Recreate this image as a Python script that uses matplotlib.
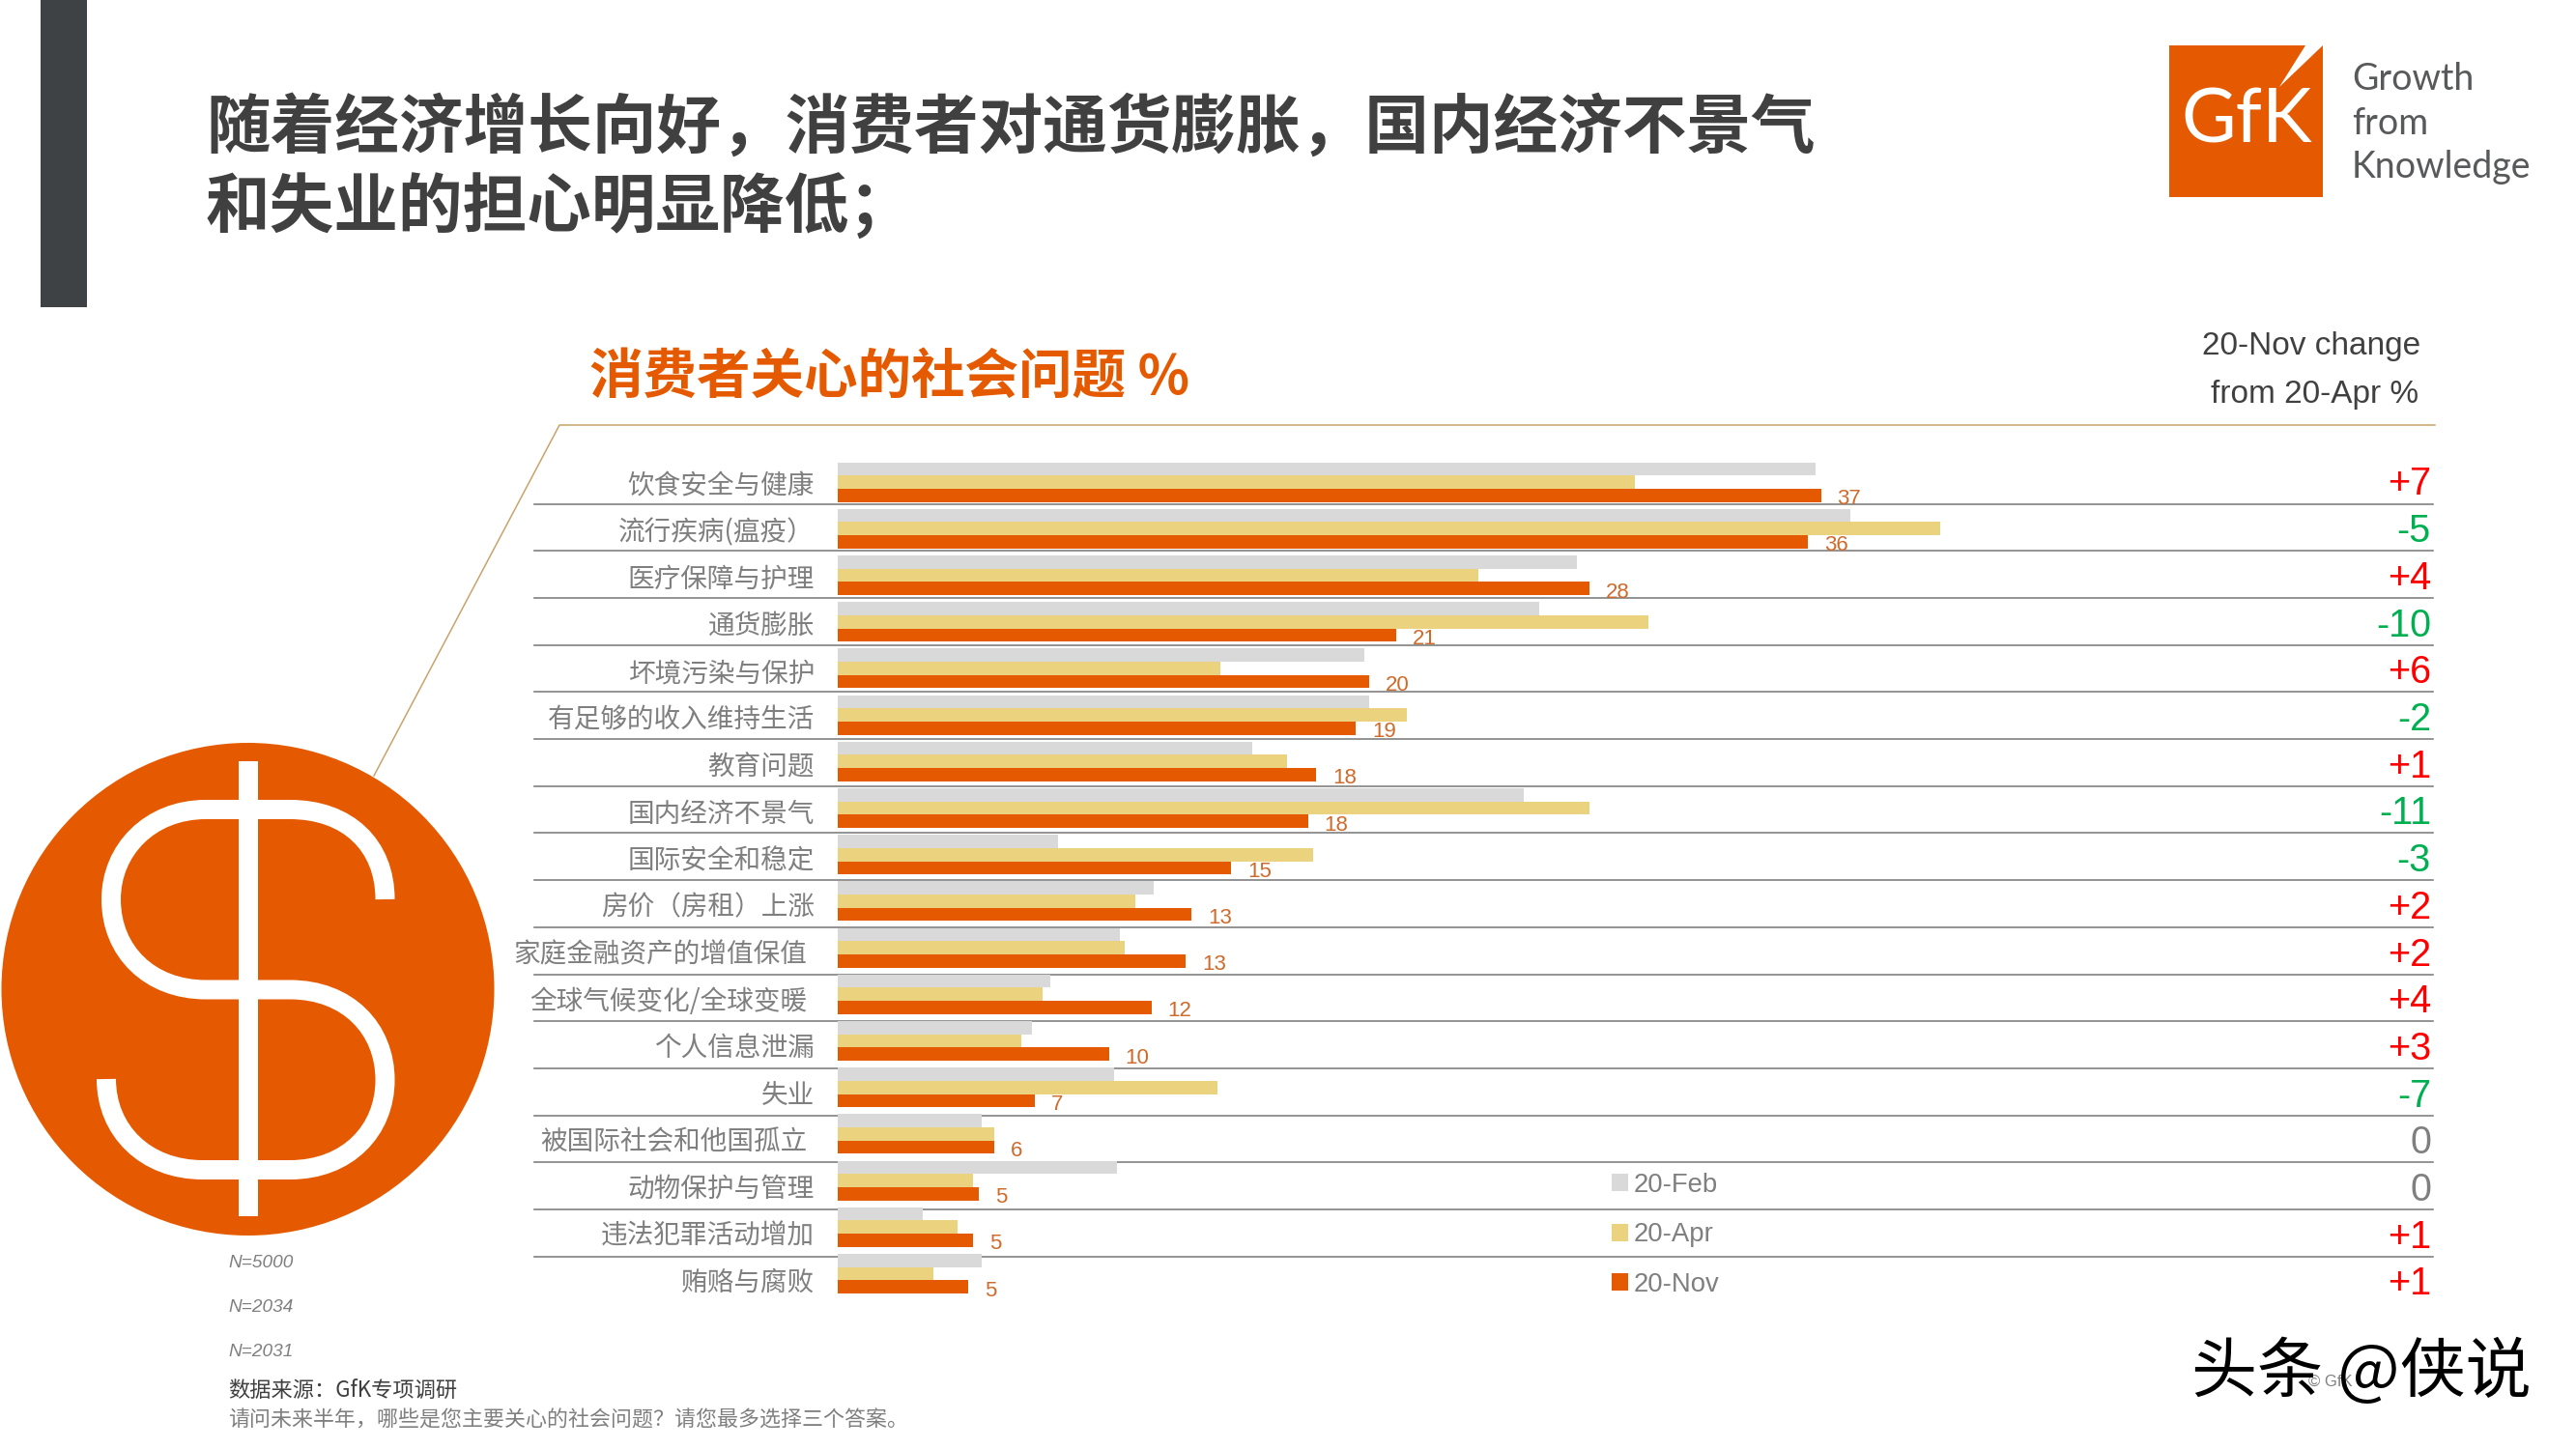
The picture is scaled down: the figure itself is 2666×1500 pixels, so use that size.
import matplotlib
matplotlib.use('Agg')
import matplotlib.pyplot as plt
from matplotlib.patches import Circle, Rectangle, Polygon, PathPatch
from matplotlib.path import Path

plt.rcParams['font.family'] = ['Noto Sans CJK SC', 'DejaVu Sans']

# Chart data
issues = ['饮食安全与健康', '流行疾病(瘟疫\uff09', '医疗保障与护理', '通货膨胀', '坏境污染与保护',
          '有足够的收入维持生活', '教育问题', '国内经济不景气', '国际安全和稳定', '房价\uff08房租\uff09上涨',
          '家庭金融资产的增值保值', '全球气候变化/全球变暖', '个人信息泄漏', '失业',
          '被国际社会和他国孤立', '动物保护与管理', '违法犯罪活动增加', '贿赂与腐败']
feb = [36.8, 38.1, 27.8, 26.4, 19.8, 20.0, 15.6, 25.8, 8.3, 11.9, 10.6, 8.0, 7.3, 10.4, 5.4, 10.5, 3.2, 5.4]
apr = [30.0, 41.5, 24.1, 30.5, 14.4, 21.4, 16.9, 28.3, 17.9, 11.2, 10.8, 7.7, 6.9, 14.3, 5.9, 5.1, 4.5, 3.6]
nov = [37.0, 36.5, 28.3, 21.0, 20.0, 19.5, 18.0, 17.7, 14.8, 13.3, 13.1, 11.8, 10.2, 7.4, 5.9, 5.3, 5.1, 4.9]
nov_labels = ['37', '36', '28', '21', '20', '19', '18', '18', '15', '13', '13', '12', '10', '7', '6', '5', '5', '5']
changes = ['+7', '-5', '+4', '-10', '+6', '-2', '+1', '-11', '-3', '+2', '+2', '+4', '+3', '-7', '0', '0', '+1', '+1']
series_names = ['20-Feb', '20-Apr', '20-Nov']
sample_sizes = ['N=5000', 'N=2034', 'N=2031']

GRAY = '#d9d9d9'
YELLOW = '#ebd27f'
ORANGE = '#e55a00'
DARK = '#404040'
MID = '#7f7f7f'
LATIN = ['Liberation Sans', 'Noto Sans CJK SC']

W, H = 2666, 1500
fig = plt.figure(figsize=(W / 100, H / 100), dpi=100, facecolor='white')

# Background layer in pixel coordinates for the slide furniture
bg = fig.add_axes([0, 0, 1, 1])
bg.set_xlim(0, W)
bg.set_ylim(H, 0)
bg.axis('off')

bg.add_patch(Rectangle((42, 0), 48, 318, color='#3f4245', lw=0))
bg.text(213, 133, '随着经济增长向好\uff0c消费者对通货膨胀\uff0c国内经济不景气', fontsize=48, fontweight='bold',
        color=DARK, va='center')
bg.text(213, 215, '和失业的担心明显降低\uff1b', fontsize=48, fontweight='bold', color=DARK, va='center')
bg.text(610, 391, '消费者关心的社会问题 %', fontsize=40, fontweight='bold', color=ORANGE, va='center')

# Logo
bg.add_patch(Rectangle((2245, 47), 159, 157, color=ORANGE, lw=0))
bg.add_patch(Polygon([(2386, 47), (2404, 47), (2359, 90)], color='white', lw=0))
bg.text(2325, 126, 'GfK', fontsize=56, fontfamily=['Lato', 'DejaVu Sans'], color='white', ha='center', va='center')
for y, word in zip([82, 128, 173], ['Growth', 'from', 'Knowledge']):
    bg.text(2434, y, word, fontsize=27, fontfamily=['Lato', 'DejaVu Sans'], color='#58595b', va='center')

bg.text(2505, 358, '20-Nov change', fontsize=24, fontfamily=LATIN, color=DARK, ha='right', va='center')
bg.text(2503, 408, 'from 20-Apr %', fontsize=24, fontfamily=LATIN, color=DARK, ha='right', va='center')

# Callout line from the icon to the chart
bg.plot([387, 579, 2520], [803, 440, 440], color='#c9a36a', lw=1.1)

# Dollar icon
bg.add_patch(Circle((256.5, 1024), 255, color=ORANGE, lw=0))
bg.add_patch(Rectangle((247, 788), 20, 471, color='white', lw=0))
s_verts = [(398.5, 931), (398.5, 875), (360, 838), (300, 838), (213, 838),
           (155, 838), (115, 880), (115, 931), (115, 985), (155, 1024.5), (213, 1024.5),
           (300, 1024.5), (360, 1024.5), (398.5, 1065), (398.5, 1118), (398.5, 1170), (360, 1211), (300, 1211),
           (210, 1211), (150, 1211), (110, 1170), (110, 1117)]
s_codes = [Path.MOVETO, Path.CURVE4, Path.CURVE4, Path.CURVE4, Path.LINETO,
           Path.CURVE4, Path.CURVE4, Path.CURVE4, Path.CURVE4, Path.CURVE4, Path.CURVE4,
           Path.LINETO, Path.CURVE4, Path.CURVE4, Path.CURVE4, Path.CURVE4, Path.CURVE4, Path.CURVE4,
           Path.LINETO, Path.CURVE4, Path.CURVE4, Path.CURVE4]
bg.add_patch(PathPatch(Path(s_verts, s_codes), fill=False, edgecolor='white', lw=14.4, capstyle='butt'))

# Row separators and change column
for i, change in enumerate(changes):
    if i < len(changes) - 1:
        bg.plot([553, 2518], [521.5 + 48.7 * i] * 2, color='#808080', lw=1.2, zorder=1)
    if change.startswith('+'):
        col = '#ff0000'
    elif change.startswith('-'):
        col = '#00b050'
    else:
        col = MID
    bg.text(2516, 501.5 + 48.7 * i, change, fontsize=28.5, fontfamily=LATIN, color=col, ha='right', va='center')

# Footnotes
for y, n in zip([1307, 1353, 1400], sample_sizes):
    bg.text(236, y, n, fontsize=13.7, fontfamily=LATIN, fontstyle='italic', color=MID, va='center')
bg.text(236, 1439, '数据来源\uff1aGfK专项调研', fontsize=16, color=DARK, va='center')
bg.text(236, 1471, '请问未来半年\uff0c哪些是您主要关心的社会问题\uff1f请您最多选择三个答案。', fontsize=15.8, color=MID, va='center')

# Watermark
bg.text(2389, 1430, '© GfK', fontsize=12, fontfamily=LATIN, color=MID, va='center')
bg.text(2268, 1422, '头条 @侠说', fontsize=49, color='black', va='center')

# Bars
x0, x1 = 867, 2518
row_top, row_h = 475, 48.2
n_rows = len(issues)
px_per_unit = 27.5
ax = fig.add_axes([x0 / W, 1 - (row_top + n_rows * row_h) / H, (x1 - x0) / W, n_rows * row_h / H])
ax.patch.set_alpha(0)
ax.set_xlim(0, (x1 - x0) / px_per_unit)
ax.set_ylim(n_rows - 0.5, -0.5)
ax.axis('off')

rows = list(range(n_rows))
bar_h = 0.284
b_feb = ax.barh([r - bar_h for r in rows], feb, height=bar_h, color=GRAY, label=series_names[0])
b_apr = ax.barh(rows, apr, height=bar_h, color=YELLOW, label=series_names[1])
b_nov = ax.barh([r + bar_h for r in rows], nov, height=bar_h, color=ORANGE, label=series_names[2])

for i, name in enumerate(issues):
    shift = -32 if name in ('家庭金融资产的增值保值', '全球气候变化/全球变暖', '被国际社会和他国孤立') else -24
    ax.annotate(name, xy=(0, i), xytext=(shift, -4 - 0.3 * i), textcoords='offset pixels', annotation_clip=False,
                fontsize=19.9, fontweight='light', color=MID, ha='right', va='center')
    ax.annotate(nov_labels[i], xy=(nov[i], i + bar_h), xytext=(17, -4), textcoords='offset pixels',
                fontsize=16, fontfamily=LATIN, color='#cf6a2a', ha='left', va='center')

ax.legend(handles=[b_feb, b_apr, b_nov], loc='upper left', bbox_to_anchor=(1668 / W, 1 - 1214 / H),
          bbox_transform=fig.transFigure, frameon=False, borderpad=0, borderaxespad=0,
          handlelength=0.62, handleheight=0.62, handletextpad=0.2, labelspacing=0.92,
          prop={'family': LATIN, 'size': 19.8}, labelcolor=MID)

fig.savefig('out.png', dpi=100)
